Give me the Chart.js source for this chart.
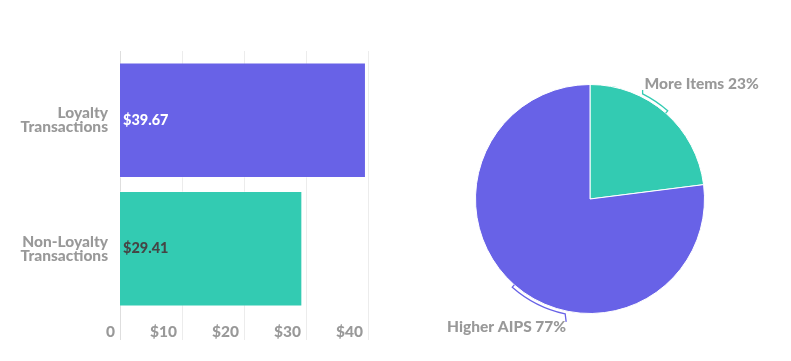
<!DOCTYPE html>
<html>
<head>
<meta charset="utf-8">
<script src="https://cdn.jsdelivr.net/npm/chart.js@4.4.1/dist/chart.umd.min.js"></script>
<style>
  body { margin: 0; background: #fff; }
  #wrap { position: relative; width: 791px; height: 361px; }
  canvas { position: absolute; top: 0; }
  #barChart { left: 0; }
  #pieChart { left: 390px; }
</style>
</head>
<body>
<div id="wrap">
  <canvas id="barChart" width="390" height="361"></canvas>
  <canvas id="pieChart" width="401" height="361"></canvas>
</div>
<script>
// Data
var barLabels = [['Loyalty', 'Transactions'], ['Non-Loyalty', 'Transactions']];
var barValues = [39.67, 29.41];
var barTicks = [0, 10, 20, 30, 40];
var pieLabels = ['More Items', 'Higher AIPS'];
var pieValues = [23, 77];

var PURPLE = '#6862e7';
var TEAL = '#33cbb2';
var GREY = '#999999';
var LABEL_FONT = '900 15.5px Lato, sans-serif';

Chart.defaults.font.family = 'Lato, sans-serif';
Chart.defaults.font.weight = '900';
Chart.defaults.font.size = 15.5;
Chart.defaults.color = GREY;
Chart.defaults.animation = false;

// vertical grid lines, running a bit past the plot area
var gridPlugin = {
    id: 'vgrid',
    beforeDatasetsDraw: function(chart) {
        var ctx = chart.ctx, x = chart.scales.x, area = chart.chartArea;
        ctx.save();
        ctx.lineWidth = 1;
        x.ticks.forEach(function(t, i) {
            var px = Math.round(x.getPixelForValue(t.value)) + 0.5;
            ctx.strokeStyle = i === 0 ? '#dedede' : '#ececec';
            ctx.beginPath();
            ctx.moveTo(px, area.top - 5);
            ctx.lineTo(px, area.bottom + 27);
            ctx.stroke();
        });
        ctx.restore();
    }
};

// value text inside the bars
var valuePlugin = {
    id: 'barValues',
    afterDatasetsDraw: function(chart) {
        var ctx = chart.ctx;
        var colors = ['#ffffff', '#454545'];
        ctx.save();
        ctx.font = '900 14.5px Lato, sans-serif';
        ctx.textAlign = 'left';
        ctx.textBaseline = 'middle';
        chart.getDatasetMeta(0).data.forEach(function(bar, i) {
            ctx.fillStyle = colors[i];
            ctx.fillText('$' + barValues[i].toFixed(2), bar.base + 3, bar.y);
        });
        ctx.restore();
    }
};

new Chart(document.getElementById('barChart'), {
    type: 'bar',
    data: {
        labels: barLabels,
        datasets: [{
            data: barValues,
            backgroundColor: [PURPLE, TEAL],
            borderColor: 'rgba(255,255,255,0.4)',
            borderWidth: 1,
            barPercentage: 0.9,
            categoryPercentage: 1
        }]
    },
    options: {
        indexAxis: 'y',
        responsive: false,
        layout: { padding: { top: 56, right: 22, bottom: 20, left: 0 } },
        plugins: { legend: { display: false }, tooltip: { enabled: false } },
        scales: {
            x: {
                min: 0,
                max: 40,
                afterBuildTicks: function(scale) {
                    scale.ticks = barTicks.map(function(v) { return { value: v }; });
                },
                afterFit: function(scale) { scale.height = 28; },
                grid: { display: false, drawTicks: false },
                border: { display: false },
                ticks: {
                    align: 'end',
                    labelOffset: -5,
                    padding: 10,
                    maxRotation: 0,
                    callback: function(v) { return v === 0 ? '0' : '$' + v; }
                }
            },
            y: {
                grid: { display: false, drawTicks: false },
                border: { display: false },
                afterFit: function(scale) { scale.width = 120; },
                ticks: {
                    padding: 12,
                    font: { lineHeight: 0.92 }
                }
            }
        }
    },
    plugins: [gridPlugin, valuePlugin]
});

// bracket leaders + outside labels for the pie
var pieLabelPlugin = {
    id: 'pieLabels',
    afterDatasetsDraw: function(chart) {
        var ctx = chart.ctx;
        var meta = chart.getDatasetMeta(0);
        var sweeps = [-14.8, -29.2];
        var sides = ['up', 'down'];
        var colors = [TEAL, PURPLE];
        ctx.save();
        ctx.font = LABEL_FONT;
        meta.data.forEach(function(arc, i) {
            var cx = arc.x, cy = arc.y;
            var mid = (arc.startAngle + arc.endAngle) / 2;
            var end = mid + sweeps[i] * Math.PI / 180;
            var R = arc.outerRadius + 3;
            var px = cx + R * Math.cos(end), py = cy + R * Math.sin(end);
            ctx.strokeStyle = colors[i];
            ctx.lineWidth = 1.3;
            ctx.beginPath();
            ctx.moveTo(cx + arc.outerRadius * Math.cos(mid), cy + arc.outerRadius * Math.sin(mid));
            ctx.lineTo(cx + R * Math.cos(mid), cy + R * Math.sin(mid));
            ctx.arc(cx, cy, R, mid, end, true);
            var text = pieLabels[i] + ' ' + pieValues[i] + '%';
            ctx.fillStyle = GREY;
            ctx.textBaseline = 'alphabetic';
            if (sides[i] === 'up') {
                ctx.lineTo(px, py - 4);
                ctx.stroke();
                ctx.textAlign = 'left';
                ctx.fillText(text, px + 2, py - 5);
            } else {
                ctx.lineTo(px + 1, py + 8);
                ctx.stroke();
                ctx.textAlign = 'right';
                ctx.fillText(text, px + 1, py + 18);
            }
        });
        ctx.restore();
    }
};

new Chart(document.getElementById('pieChart'), {
    type: 'pie',
    data: {
        labels: pieLabels,
        datasets: [{
            data: pieValues,
            backgroundColor: [TEAL, PURPLE],
            borderColor: '#ffffff',
            borderWidth: 1
        }]
    },
    options: {
        responsive: false,
        layout: { padding: { left: 85, right: 86, top: 84, bottom: 47 } },
        plugins: { legend: { display: false }, tooltip: { enabled: false } }
    },
    plugins: [pieLabelPlugin]
});
</script>
</body>
</html>
